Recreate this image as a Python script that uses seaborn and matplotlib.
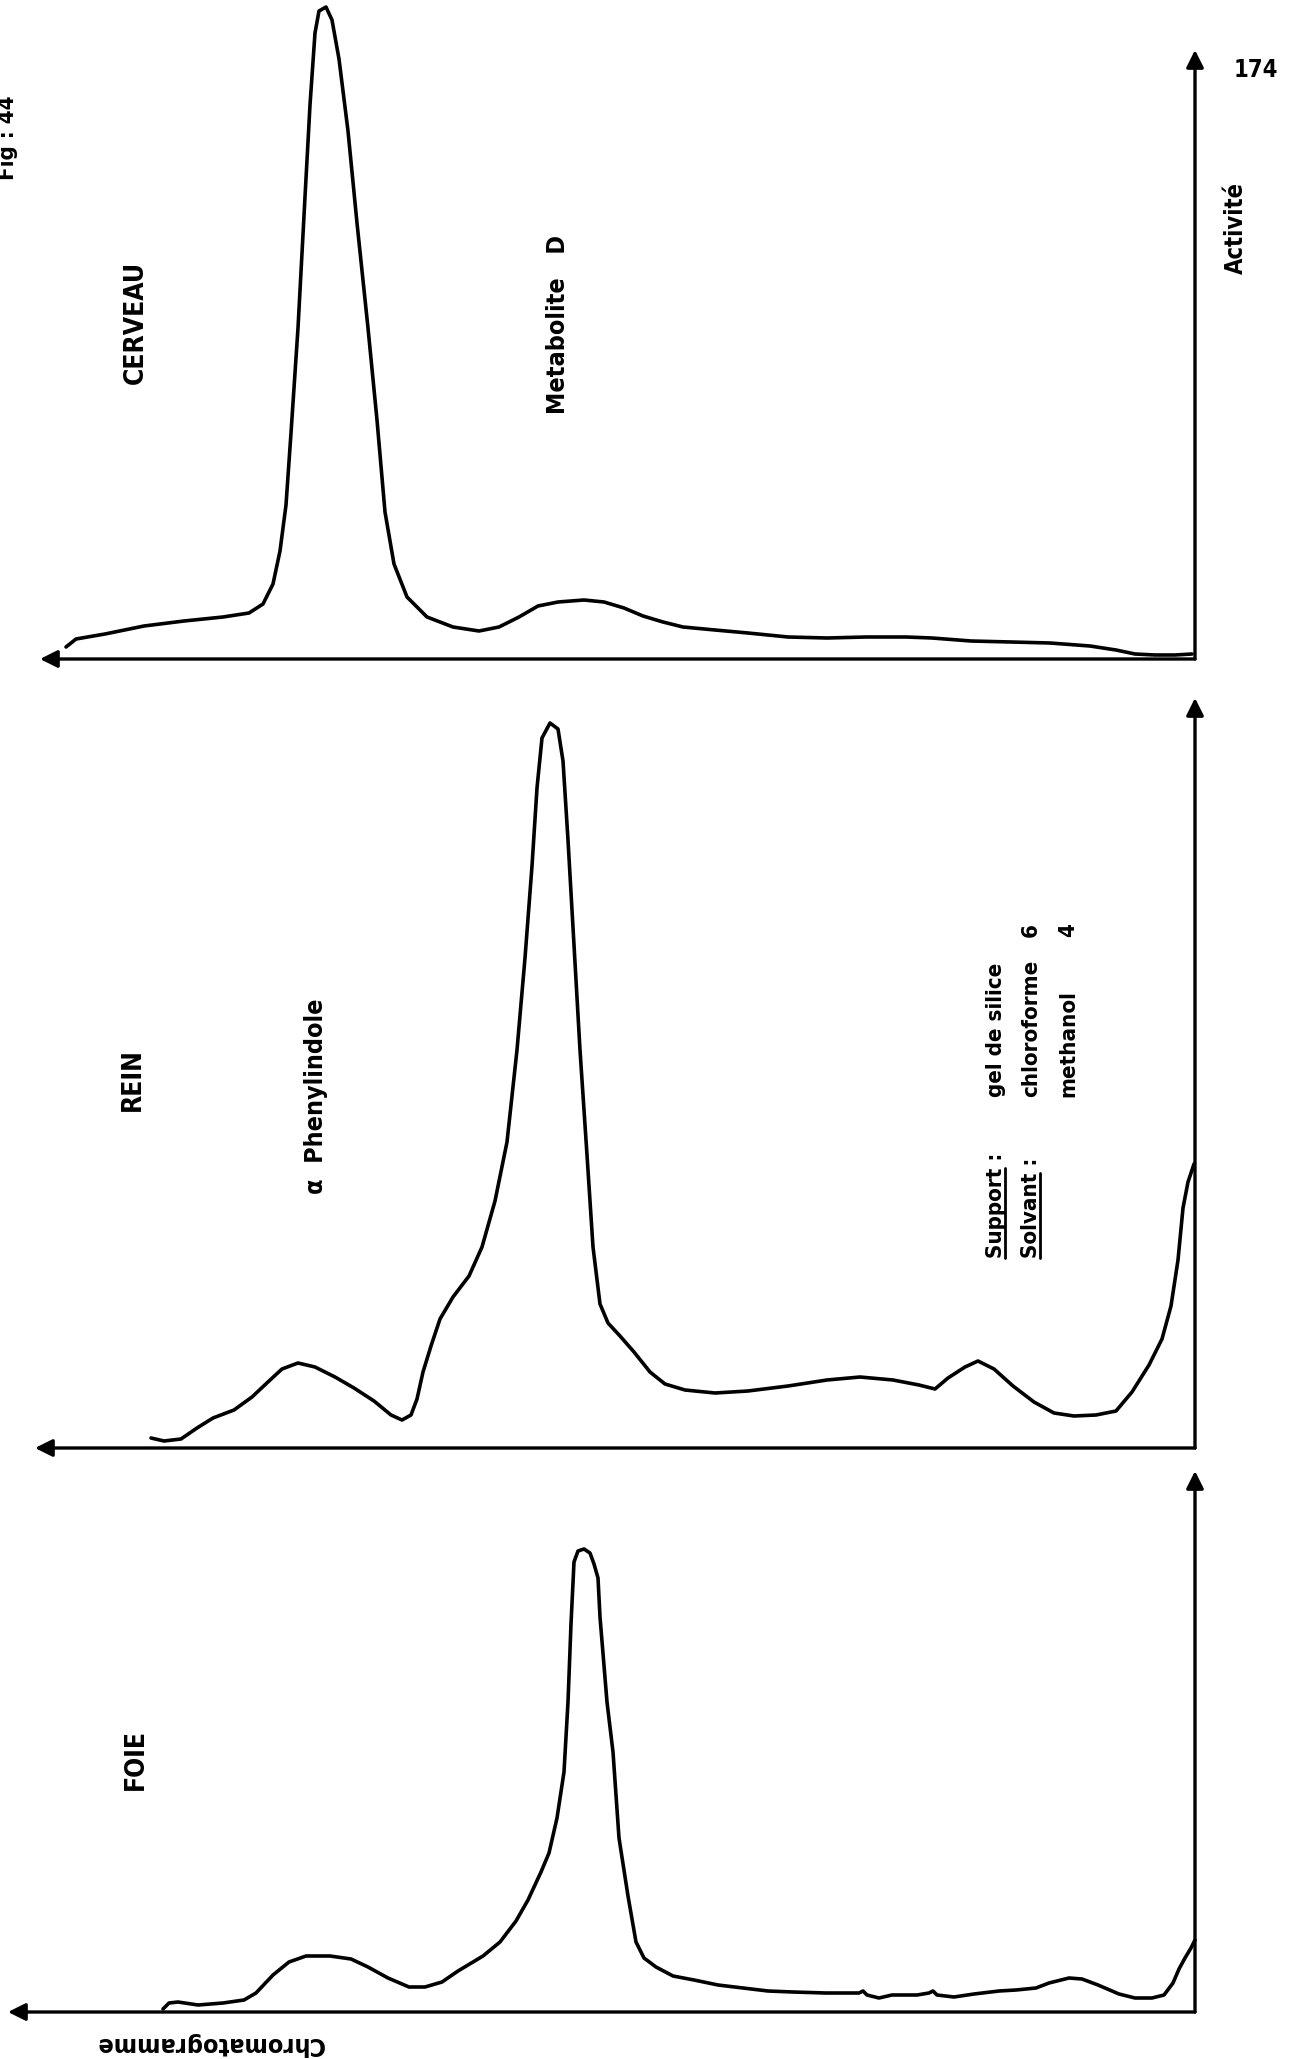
import numpy as np
import pandas as pd
import matplotlib
matplotlib.use("Agg")
import matplotlib.pyplot as plt
from matplotlib.lines import Line2D
import seaborn as sns

# ---------------------------------------------------------------------------
# Données lues sur les chromatogrammes (distance depuis l'origine, activité)
# ---------------------------------------------------------------------------
cerveau_dist = [112.9, 111.9, 109.0, 105.1, 101.1, 97.2, 94.6, 93.2, 92.2, 91.5,
                90.9, 90.4, 89.7, 89.0, 88.5, 88.0, 87.6, 86.9, 86.3, 85.6,
                84.7, 83.8, 82.7, 81.8, 81.0, 80.1, 78.8, 76.8, 74.2, 71.6,
                69.6, 67.6, 65.7, 63.7, 61.1, 59.1, 57.1, 55.2, 53.2, 51.2,
                48.0, 44.7, 40.7, 36.8, 32.9, 28.9, 26.3, 22.4, 18.4, 14.5,
                10.5, 7.9, 6.0, 4.0, 2.0, 0.3]
cerveau_act = [1.2, 2.0, 2.5, 3.3, 3.8, 4.2, 4.6, 5.5, 7.5, 10.8,
               15.4, 22.6, 33.1, 46.2, 55.4, 62.6, 64.8, 65.2, 63.9, 60.0,
               52.8, 43.6, 33.1, 23.9, 14.7, 9.5, 6.2, 4.2, 3.2, 2.8,
               3.2, 4.2, 5.3, 5.7, 5.9, 5.7, 5.1, 4.3, 3.7, 3.2,
               2.9, 2.6, 2.2, 2.1, 2.2, 2.2, 2.1, 1.8, 1.7, 1.6,
               1.3, 0.9, 0.5, 0.4, 0.4, 0.5]

rein_dist = [104.4, 103.1, 101.4, 99.8, 98.2, 96.1, 94.3, 92.6, 91.3, 89.7,
             88.0, 86.0, 84.1, 82.1, 80.4, 79.3, 78.4, 77.8, 77.2, 76.4,
             75.5, 74.2, 72.6, 71.3, 70.0, 68.8, 67.8, 67.0, 66.3, 65.8,
             65.3, 64.5, 63.7, 63.2, 62.7, 62.1, 61.5, 60.8, 60.2, 59.5,
             58.7, 57.5, 56.1, 54.5, 53.0, 51.0, 48.0, 44.7, 40.7, 36.8,
             33.5, 30.2, 27.6, 26.0, 24.7, 23.0, 21.7, 20.1, 18.2, 16.1,
             14.1, 12.1, 9.9, 7.9, 6.3, 4.6, 3.3, 2.4, 1.7, 1.2, 0.7, 0.1]
rein_act = [1.0, 0.7, 0.9, 2.0, 3.0, 3.8, 5.1, 6.7, 7.9, 8.5,
            8.1, 7.1, 6.0, 4.7, 3.3, 2.8, 3.3, 4.9, 7.6, 10.2,
            12.9, 15.1, 17.2, 20.1, 24.7, 30.6, 39.8, 49.0, 58.2, 66.0,
            71.0, 72.5, 71.9, 68.7, 60.8, 50.3, 39.8, 29.3, 20.1, 14.4,
            12.5, 11.2, 9.6, 7.6, 6.4, 5.8, 5.5, 5.7, 6.2, 6.8,
            7.1, 6.8, 6.3, 5.9, 7.0, 8.1, 8.7, 7.9, 6.2, 4.6,
            3.5, 3.2, 3.3, 3.7, 5.6, 8.3, 10.9, 14.2, 18.8, 24.0, 26.6, 28.4]

foie_dist = [103.2, 102.6, 101.7, 99.7, 97.2, 95.1, 93.9, 92.2, 90.6, 88.9,
             86.5, 84.4, 82.7, 80.7, 78.6, 77.0, 75.3, 73.7, 71.2, 69.5,
             67.9, 66.7, 65.4, 64.6, 63.8, 63.1, 62.7, 62.4, 62.1, 61.7,
             61.1, 60.5, 60.1, 59.7, 59.5, 58.8, 58.2, 57.6, 56.7, 55.9,
             55.1, 53.9, 52.2, 50.1, 47.7, 45.2, 42.7, 40.2, 36.9, 33.6,
             33.2, 32.8, 31.6, 30.3, 27.8, 26.6, 26.2, 25.8, 24.1, 22.1,
             19.6, 17.9, 15.9, 14.6, 12.6, 11.3, 9.7, 7.6, 6.0, 4.3,
             3.1, 2.2, 1.6, 1.0, 0.4, 0.0]
foie_act = [0.3, 0.9, 1.0, 0.7, 0.9, 1.2, 1.9, 3.7, 5.0, 5.6,
            5.6, 5.3, 4.5, 3.4, 2.5, 2.5, 3.0, 4.1, 5.6, 7.0,
            9.1, 11.2, 14.0, 15.9, 19.4, 24.0, 31.0, 38.8, 45.0, 46.1,
            46.3, 45.9, 44.8, 43.4, 39.5, 31.0, 26.0, 17.4, 11.6, 7.0,
            5.4, 4.5, 3.6, 3.2, 2.7, 2.4, 2.1, 2.0, 1.9, 1.9,
            2.1, 1.7, 1.4, 1.7, 1.7, 1.9, 2.1, 1.7, 1.5, 1.8,
            2.1, 2.2, 2.4, 2.9, 3.4, 3.3, 2.7, 1.8, 1.4, 1.4,
            1.7, 2.9, 4.3, 5.4, 6.4, 7.2]

# ---------------------------------------------------------------------------
# Mise en page (pixels de la figure)
# ---------------------------------------------------------------------------
W, H = 1293, 2059
sns.set_theme(style="white")
FONT = ['Liberation Sans Narrow', 'DejaVu Sans']
plt.rcParams['font.family'] = FONT
plt.rcParams['font.stretch'] = 'condensed'

fig = plt.figure(figsize=(W / 100, H / 100), dpi=100)
fig.patch.set_facecolor("white")

def fx(x):
    return x / W

def fy(y):
    return 1 - y / H

def make_axes(top_px, base_px):
    # axe x inversé : origine à droite, front du solvant à gauche
    ax = fig.add_axes([0, fy(base_px + 20), 1215 / W, (base_px + 20 - top_px) / H])
    ax.set_xlim(119.5, -2)
    ax.set_ylim(-2, (base_px - top_px) / 10)
    ax.axis("off")
    return ax

panels = [
    # (distance, activité, haut axe, base, pointe flèche x, pointe flèche y)
    (cerveau_dist, cerveau_act, 0, 659, 115.5, 60.9),
    (rein_dist, rein_act, 680, 1448, 116.0, 75.0),
    (foie_dist, foie_act, 1460, 2012, 118.7, 54.1),
]

arrow = dict(arrowstyle='-|>', lw=2.4, color='black', mutation_scale=26,
             shrinkA=0, shrinkB=0)

for dist, act, top, base, xtip, ytip in panels:
    ax = make_axes(top, base)
    df = pd.DataFrame({'distance': dist, 'activite': act})
    sns.lineplot(data=df, x='distance', y='activite', ax=ax, sort=False,
                 estimator=None, color='black', lw=2.6)
    ax.annotate('', xy=(xtip, 0), xytext=(0, 0), arrowprops=arrow,
                annotation_clip=False)
    ax.annotate('', xy=(0, ytip), xytext=(0, 0), arrowprops=arrow,
                annotation_clip=False)

# ---------------------------------------------------------------------------
# Textes
# ---------------------------------------------------------------------------
bold = dict(fontweight='bold', color='black')

def vtext(x, y, s, size, **kw):
    return fig.text(fx(x), fy(y), s, rotation=90, ha='center', va='center',
                    fontsize=size, **bold, **kw)

def vstart(x, y, s, size):
    return fig.text(fx(x), fy(y), s, rotation=90, rotation_mode='anchor',
                    ha='left', va='center', fontsize=size, **bold)

vtext(8, 138, 'Fig : 44', 16)
fig.text(fx(1256), fy(70), '174', ha='center', va='center', fontsize=17, **bold)
vtext(1236, 228, 'Activité', 17)
vtext(136, 322, 'CERVEAU', 19)
vtext(558, 324, 'Metabolite   D', 18)
vtext(133, 1080, 'REIN', 19)
vtext(316, 1096, 'α  Phenylindole', 18)
vtext(136, 1759, 'FOIE', 19)
fig.text(fx(210), fy(2044), 'Chromatogramme', rotation=180, ha='center',
         va='center', fontsize=18, **bold)

# bloc "Support / Solvant"
sup = vstart(996, 1258, 'Support', 16)
vstart(996, 1258, 'Support :', 16)
vstart(996, 1097, 'gel de silice', 16)
sol = vstart(1031, 1258, 'Solvant', 16)
vstart(1031, 1258, 'Solvant :', 16)
vstart(1031, 1097, 'chloroforme', 16)
vstart(1031, 937, '6', 16)
vstart(1068, 1097, 'methanol', 16)
vstart(1068, 937, '4', 16)

# soulignement des mots "Support" et "Solvant"
renderer = fig.canvas.get_renderer()
inv = fig.transFigure.inverted()
for t in (sup, sol):
    t.set_alpha(0)
    bb = t.get_window_extent(renderer)
    (x0, y0), (x1, y1) = inv.transform([(bb.x1 - 1, bb.y0), (bb.x1 - 1, bb.y1)])
    fig.add_artist(Line2D([x0, x1], [y0, y1], transform=fig.transFigure,
                          color='black', lw=2))

fig.savefig("out.png", dpi=100, facecolor="white")
